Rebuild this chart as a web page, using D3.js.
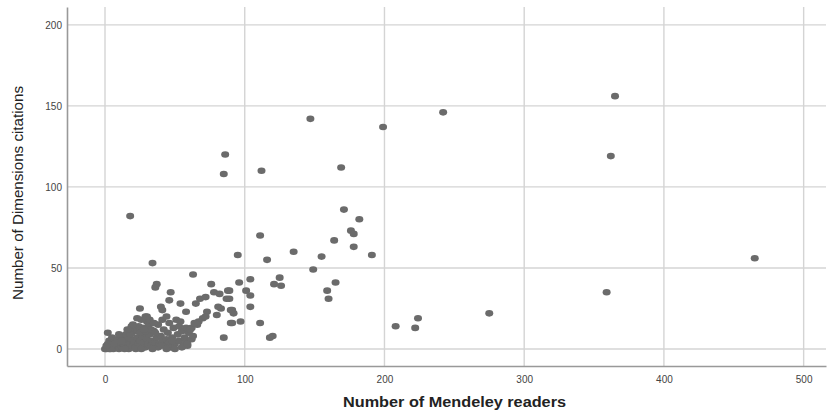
<!DOCTYPE html>
<html>
<head>
<meta charset="utf-8">
<script src="https://cdn.jsdelivr.net/npm/d3@7"></script>
<style>
  body { margin: 0; background: #fff; }
  .tick text { font-family: "Liberation Sans", Arial, sans-serif; fill: #444; font-size: 10px; }
</style>
</head>
<body>
<div id="chart"></div>
<script>
const xTicks = [0, 100, 200, 300, 400, 500];
const yTicks = [0, 50, 100, 150, 200];

// readers (x) and citations (y)
const readers = [
  365, 362, 242, 199, 169, 147, 171, 182, 176, 178, 178, 191, 465, 359, 275, 208, 222, 224,
  86, 85, 112, 18, 111, 164, 95, 116, 135, 155, 149, 165, 159, 160, 96, 104, 101, 104, 104,
  89, 89, 91, 92, 91, 97, 111, 121, 125, 126, 120, 118, 34, 63, 76, 37, 36, 47, 46, 54, 65,
  68, 72, 78, 82, 88, 87, 81, 83, 90, 40, 41, 58, 73, 70, 67, 66, 80, 90, 85, 51, 54, 62, 59,
  25, 23, 29, 30, 19, 2, 64, 72,
  0, 1, 2, 3, 4, 5, 6, 7, 8, 9, 10, 11, 12, 13, 14, 15, 16, 17, 18, 19, 20, 21, 22, 23, 24,
  25, 26, 27, 28, 29, 30, 31, 32, 33, 34, 35, 36, 37, 38, 39, 40, 41, 42, 43, 44, 45, 46, 47,
  48, 49, 50, 52, 53, 55, 56, 57, 58, 60, 62, 63, 3, 5, 7, 9, 11, 13, 15, 17, 19, 21, 23, 25,
  27, 29, 31, 33, 14, 22, 26, 34, 40, 45, 50, 8, 12, 6, 2, 4, 1, 18, 24, 28, 36, 38, 32, 41,
  44, 30, 20, 16, 10, 46, 53, 58, 61, 35, 26, 44, 48, 55, 59
];
const citations = [
  156, 119, 146, 137, 112, 142, 86, 80, 73, 71, 63, 58, 56, 35, 22, 14, 13, 19,
  120, 108, 110, 82, 70, 67, 58, 55, 60, 57, 49, 41, 36, 31, 41, 43, 36, 33, 26,
  36, 31, 24, 22, 16, 17, 16, 40, 44, 39, 8, 7, 53, 46, 40, 40, 38, 35, 30, 28, 28,
  31, 32, 35, 34, 36, 31, 26, 25, 24, 26, 24, 23, 23, 19, 17, 15, 21, 16, 7, 18, 17, 13, 2,
  25, 19, 20, 17, 14, 10, 16, 20,
  0, 0, 1, 0, 2, 1, 0, 3, 1, 2, 0, 4, 1, 3, 2, 5, 1, 0, 3, 6, 2, 4, 1, 7, 3,
  5, 2, 8, 4, 1, 6, 3, 9, 2, 5, 11, 4, 7, 1, 3, 8, 5, 12, 2, 6, 10, 4, 1,
  7, 13, 3, 9, 5, 11, 2, 7, 4, 10, 6, 8, 5, 7, 5, 6, 8, 6, 9, 7, 10, 11, 12, 10,
  13, 11, 14, 12, 0, 0, 0, 0, 2, 1, 0, 4, 5, 3, 3, 0, 2, 9, 14, 12, 10, 15, 18, 18,
  20, 20, 15, 12, 9, 16, 14, 13, 12, 16, 18, 0, 5, 1, 3
];

const margin = {top: 7, right: 2, bottom: 46, left: 67};
const width = 828 - margin.left - margin.right;
const height = 412 - margin.top - margin.bottom;

const svg = d3.select("#chart")
  .append("svg")
  .attr("width", 828)
  .attr("height", 412)
  .append("g")
  .attr("transform", `translate(${margin.left},${margin.top})`);

const x = d3.scaleLinear().domain([-27.2, 516]).range([0, width]);
const y = d3.scaleLinear().domain([-10.5, 211]).range([height, 0]);

// grid
svg.append("g")
  .selectAll("line")
  .data(yTicks)
  .join("line")
    .attr("x1", 0).attr("x2", width)
    .attr("y1", d => y(d)).attr("y2", d => y(d))
    .attr("stroke", "#d4d4d4").attr("stroke-width", 1.4);

svg.append("g")
  .selectAll("line")
  .data(xTicks)
  .join("line")
    .attr("x1", d => x(d)).attr("x2", d => x(d))
    .attr("y1", 0).attr("y2", height)
    .attr("stroke", "#d4d4d4").attr("stroke-width", 1.4);

// axes
const xAxis = svg.append("g")
  .attr("transform", `translate(0,${height})`)
  .call(d3.axisBottom(x).tickValues(xTicks).tickSize(0).tickPadding(10));
xAxis.select(".domain").attr("stroke", "#999").attr("stroke-width", 1.6);

const yAxis = svg.append("g")
  .call(d3.axisLeft(y).tickValues(yTicks).tickSize(0).tickPadding(5));
yAxis.select(".domain").attr("stroke", "#999").attr("stroke-width", 1.6);

// points
svg.append("g")
  .selectAll("ellipse")
  .data(readers.map((r, i) => [r, citations[i]]))
  .join("ellipse")
    .attr("cx", d => x(d[0]))
    .attr("cy", d => y(d[1]))
    .attr("rx", 4)
    .attr("ry", 3.3)
    .attr("fill", "#6b6b6b");

// titles (stretched a little, like the source image)
svg.append("text")
  .attr("x", 454.5 - margin.left)
  .attr("y", height + 41)
  .attr("text-anchor", "middle")
  .attr("font-family", "Liberation Sans, Arial, sans-serif")
  .attr("font-weight", "bold")
  .attr("font-size", 14)
  .attr("textLength", 223)
  .attr("lengthAdjust", "spacingAndGlyphs")
  .attr("fill", "#222")
  .text("Number of Mendeley readers");

svg.append("text")
  .attr("transform", `translate(${23 - margin.left},${193 - margin.top}) rotate(-90)`)
  .attr("text-anchor", "middle")
  .attr("font-family", "Liberation Sans, Arial, sans-serif")
  .attr("font-size", 14)
  .attr("textLength", 214)
  .attr("lengthAdjust", "spacingAndGlyphs")
  .attr("fill", "#222")
  .text("Number of Dimensions citations");
</script>
</body>
</html>
